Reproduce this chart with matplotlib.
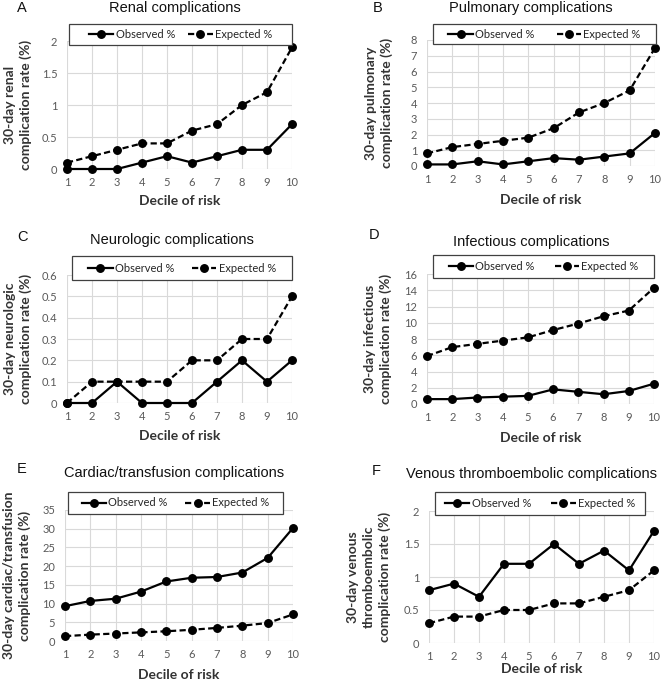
import numpy as np
import matplotlib
matplotlib.use("Agg")
import matplotlib.pyplot as plt
from matplotlib.patches import Rectangle
from matplotlib.ticker import FuncFormatter, MultipleLocator

# ---------------- data ----------------
deciles = [1, 2, 3, 4, 5, 6, 7, 8, 9, 10]

renal_obs = [0, 0, 0, 0.1, 0.2, 0.1, 0.2, 0.3, 0.3, 0.7]
renal_exp = [0.1, 0.2, 0.3, 0.4, 0.4, 0.6, 0.7, 1.0, 1.2, 1.9]

pulm_obs = [0.1, 0.1, 0.3, 0.1, 0.3, 0.5, 0.4, 0.6, 0.8, 2.1]
pulm_exp = [0.8, 1.2, 1.4, 1.6, 1.8, 2.4, 3.4, 4.0, 4.8, 7.5]

neuro_obs = [0, 0, 0.1, 0, 0, 0, 0.1, 0.2, 0.1, 0.2]
neuro_exp = [0, 0.1, 0.1, 0.1, 0.1, 0.2, 0.2, 0.3, 0.3, 0.5]

infect_obs = [0.6, 0.6, 0.8, 0.9, 1.0, 1.8, 1.5, 1.2, 1.6, 2.5]
infect_exp = [5.9, 7.0, 7.4, 7.8, 8.2, 9.1, 9.9, 10.8, 11.5, 14.3]

cardiac_obs = [9.3, 10.7, 11.3, 13.2, 15.9, 16.9, 17.1, 18.3, 22.2, 30.2]
cardiac_exp = [1.3, 1.7, 2.0, 2.3, 2.6, 3.0, 3.5, 4.1, 4.8, 7.1]

vte_obs = [0.8, 0.9, 0.7, 1.2, 1.2, 1.5, 1.2, 1.4, 1.1, 1.7]
vte_exp = [0.3, 0.4, 0.4, 0.5, 0.5, 0.6, 0.6, 0.7, 0.8, 1.1]

panel_letters = ["A", "B", "C", "D", "E", "F"]
titles = ["Renal complications", "Pulmonary complications",
          "Neurologic complications", "Infectious complications",
          "Cardiac/transfusion complications",
          "Venous thromboembolic complications"]
ylabels = ["30-day renal\ncomplication rate (%)",
           "30-day pulmonary\ncomplication rate (%)",
           "30-day neurologic\ncomplication rate (%)",
           "30-day infectious\ncomplication rate (%)",
           "30-day cardiac/transfusion\ncomplication rate (%)",
           "30-day venous\nthromboembolic\ncomplication rate (%)"]
xlabel = "Decile of risk"
series_labels = ["Observed %", "Expected %"]
observed = [renal_obs, pulm_obs, neuro_obs, infect_obs, cardiac_obs, vte_obs]
expected = [renal_exp, pulm_exp, neuro_exp, infect_exp, cardiac_exp, vte_exp]
ymaxes = [2, 8, 0.6, 16, 35, 2]
ysteps = [0.5, 1, 0.1, 2, 5, 0.5]

# ---------------- layout (pixels) ----------------
W, H = 662, 682
# axes: left, right, y of zero, y of top
axes_px = [(67, 292, 169, 41), (427, 655, 166, 40),
           (67, 292, 403, 275), (427, 654, 404, 274),
           (65, 293, 641, 510), (429, 654, 643, 511)]
legend_px = [(69, 292, 24, 45), (433, 656, 24, 44),
             (72, 292, 256, 280), (433, 654, 255, 278),
             (68, 283, 492, 514), (435, 645, 492, 515)]
legend_colsp = [1.2, 2.0, 1.6, 1.8, 1.6, 1.8]
title_px = [(175, 8), (531, 8), (172, 240), (531, 242), (174, 473), (531, 474)]
letter_px = [(22, 8), (378, 8), (22, 237), (374, 235), (22, 469), (376, 471)]
ylabel_x = [18, 379, 18, 378, 17, 369]
xlabel_y = [201, 200, 436, 438, 675, 669]

fig = plt.figure(figsize=(W / 100, H / 100), dpi=100)
fig.patch.set_facecolor("white")

def fx(x):
    return x / W

def fy(y):
    return 1 - y / H

calibri = ["Lato", "DejaVu Sans"]
arial = ["Liberation Sans", "DejaVu Sans"]
fmt = FuncFormatter(lambda v, p: f"{round(v, 6):g}")

for i in range(6):
    l, r, y0, yt = axes_px[i]
    ax = fig.add_axes([fx(l), fy(y0), (r - l) / W, (y0 - yt) / H])
    ax.plot(deciles, observed[i], color="black", lw=1.6, marker="o",
            ms=5.4, clip_on=False, zorder=4, label=series_labels[0])
    ax.plot(deciles, expected[i], color="black", lw=1.6, marker="o",
            ms=5.4, clip_on=False, zorder=4, linestyle=(0, (2.8, 1.5)),
            label=series_labels[1])
    ax.set_xlim(1, 10)
    ax.set_ylim(0, ymaxes[i])
    ax.xaxis.set_major_locator(MultipleLocator(1))
    ax.yaxis.set_major_locator(MultipleLocator(ysteps[i]))
    ax.yaxis.set_major_formatter(fmt)
    ax.grid(True, color="#d9d9d9", lw=0.8)
    ax.set_axisbelow(True)
    for s in ax.spines.values():
        s.set_visible(False)
    ax.tick_params(length=0, colors="#595959", labelsize=8)
    ax.tick_params(axis="x", pad=5.5)
    ax.tick_params(axis="y", pad=7)
    for lab in ax.get_xticklabels() + ax.get_yticklabels():
        lab.set_fontfamily(calibri)

    # legend box
    lx0, lx1, ly0, ly1 = legend_px[i]
    rect = Rectangle((fx(lx0), fy(ly1)), (lx1 - lx0) / W, (ly1 - ly0) / H,
                     transform=fig.transFigure, facecolor="white",
                     edgecolor="#404040", lw=0.9, zorder=3)
    fig.add_artist(rect)
    h, lb = ax.get_legend_handles_labels()
    leg = fig.legend(h, lb, loc="center",
                     bbox_to_anchor=(fx((lx0 + lx1) / 2), fy((ly0 + ly1) / 2)),
                     ncol=2, frameon=False, handlelength=2.2, numpoints=1,
                     handletextpad=0.2, columnspacing=legend_colsp[i],
                     prop={"family": calibri, "size": 8},
                     borderpad=0, borderaxespad=0)
    leg.set_zorder(5)
    for t in leg.get_texts():
        t.set_color("#262626")

    fig.text(fx(title_px[i][0]), fy(title_px[i][1]), titles[i],
             ha="center", va="center", fontsize=10.5, family=arial,
             color="#111111")
    fig.text(fx(letter_px[i][0]), fy(letter_px[i][1]), panel_letters[i],
             ha="center", va="center", fontsize=10.5, family=arial,
             color="#111111")
    fig.text(fx(ylabel_x[i]), fy((y0 + yt) / 2), ylabels[i], rotation=90,
             ha="center", va="center", fontsize=10, fontweight="bold",
             family=calibri, color="#333333", linespacing=1.35,
             multialignment="center")
    fig.text(fx((l + r) / 2), fy(xlabel_y[i]), xlabel, ha="center",
             va="center", fontsize=10, fontweight="bold", family=calibri,
             color="#333333")

fig.savefig("out.png", dpi=100)
